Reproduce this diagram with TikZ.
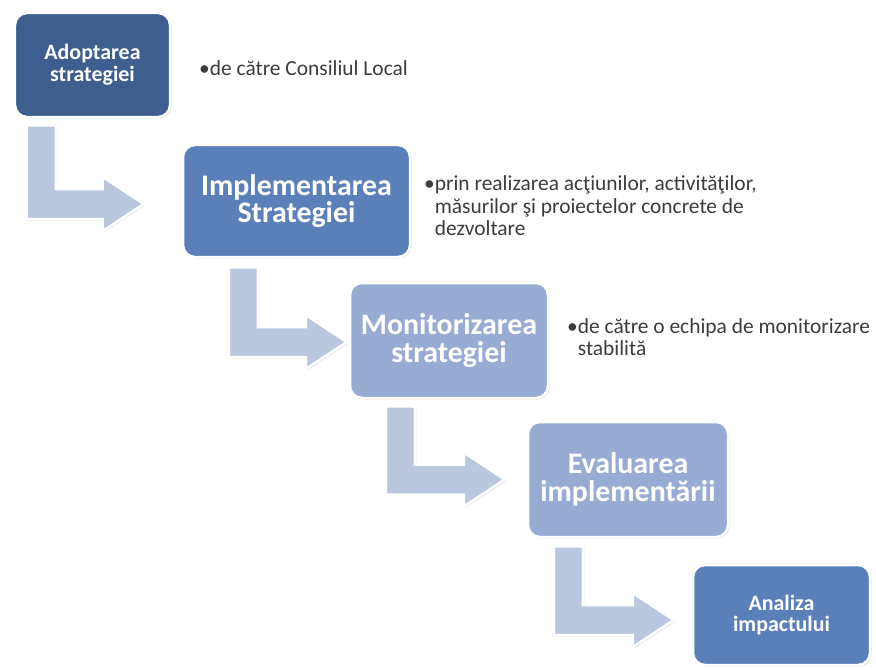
\documentclass[tikz,border=0pt]{standalone}
\usepackage{fontspec}
\setmainfont{Carlito}
\usetikzlibrary{calc,shadows}
\definecolor{boxdark}{RGB}{61,94,143}
\definecolor{boxmid}{RGB}{91,128,185}
\definecolor{boxlight}{RGB}{150,172,210}
\definecolor{arrowfill}{RGB}{186,199,223}
\definecolor{notegray}{RGB}{60,60,60}
\tikzset{
    x=1bp,
    y=-1bp,
    box/.style = {
        shape=rectangle,
        rounded corners=12bp,
        draw=white,
        line width=2.5bp,
        inner sep=0pt,
        text=white,
        align=center,
        drop shadow={shadow xshift=1.5bp, shadow yshift=-1.5bp, opacity=0.25}
    },
    smallbox/.style = {
        box,
        font=\fontsize{22}{22}\selectfont\bfseries
    },
    bigbox/.style = {
        box,
        font=\fontsize{30}{28}\selectfont\bfseries
    },
    note/.style = {
        anchor=west,
        align=left,
        inner sep=0pt,
        text=notegray,
        font=\fontsize{21.5}{22.5}\selectfont
    },
    bent/.style = {
        fill=arrowfill,
        draw=white,
        line width=2.5bp,
        drop shadow={shadow xshift=1.5bp, shadow yshift=-1.5bp, opacity=0.2},
        to path={let \p1=(\tikztostart), \p2=(\tikztotarget) in
            (\x1,\y1) -- (\x1+29bp,\y1) -- (\x1+29bp,\y2+15bp)
            -- (\x2-41bp,\y2+15bp) -- (\x2-41bp,\y2+27bp) -- (\x2,\y2)
            -- (\x2-41bp,\y2-27bp) -- (\x2-41bp,\y2-15bp) -- (\x1,\y2-15bp)
            -- cycle}
    },
}
\begin{document}
\begin{tikzpicture}
    \useasboundingbox (0,0) rectangle (876,670);

    \node[smallbox, fill=boxdark, minimum width=155bp, minimum height=104bp]
        (adopt) at (92.5,65) {Adoptarea\\strategiei};
    \node[bigbox, fill=boxmid, minimum width=227bp, minimum height=112bp]
        (impl) at (296.5,201) {Implementarea\\Strategiei};
    \node[bigbox, fill=boxlight, minimum width=198bp, minimum height=115bp]
        (monit) at (449,340.5) {Monitorizarea\\strategiei};
    \node[bigbox, fill=boxlight, minimum width=200bp, minimum height=115bp]
        (eval) at (628,479.5) {Evaluarea\\implementării};
    \node[smallbox, fill=boxmid, minimum width=177bp, minimum height=100bp]
        (anal) at (781.5,615) {Analiza\\impactului};

    % arrow ends
    \coordinate (s1) at ([xshift=13bp,yshift=-7bp]adopt.south west);
    \coordinate (e1) at ([xshift=-38bp,yshift=-3bp]impl.west);
    \coordinate (s2) at ([xshift=47bp,yshift=-9bp]impl.south west);
    \coordinate (e2) at ([xshift=-2bp,yshift=-1.5bp]monit.west);
    \coordinate (s3) at ([xshift=37bp,yshift=-7bp]monit.south west);
    \coordinate (e3) at ([xshift=-22bp]eval.west);
    \coordinate (s4) at ([xshift=27bp,yshift=-8bp]eval.south west);
    \coordinate (e4) at ([xshift=-18bp,yshift=-5bp]anal.west);

    \path[bent] (s1) to (e1);
    \path[bent] (s2) to (e2);
    \path[bent] (s3) to (e3);
    \path[bent] (s4) to (e4);

    \node[note, anchor=base west] (n1) at (199,76) {•de către Consiliul Local};
    \node[note] (n2) at (424,206)
        {•prin realizarea acţiunilor, activităţilor,\\
         \hphantom{•}măsurilor şi proiectelor concrete de\\
         \hphantom{•}dezvoltare};
    \node[note] (n3) at (567,337)
        {•de către o echipa de monitorizare\\
         \hphantom{•}stabilită};
\end{tikzpicture}
\end{document}
